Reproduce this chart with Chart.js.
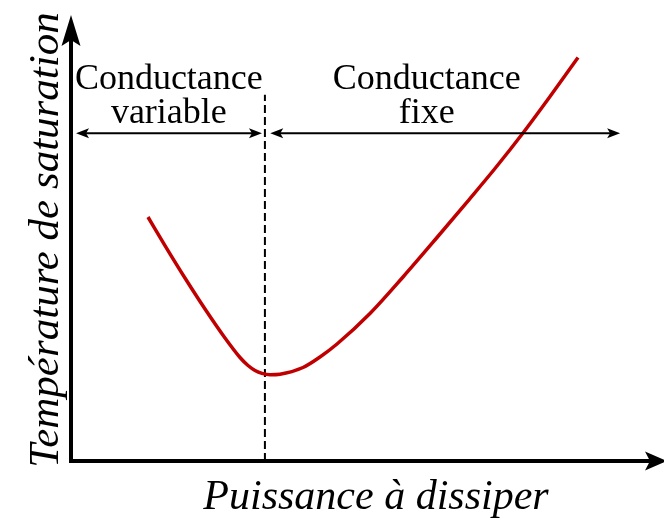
<!DOCTYPE html>
<html>
<head>
<meta charset="utf-8">
<script src="https://cdn.jsdelivr.net/npm/chart.js@4/dist/chart.umd.min.js"></script>
<style>
html,body{margin:0;padding:0;background:#fff;}
canvas{display:block;}
</style>
</head>
<body>
<canvas id="c" width="664" height="518"></canvas>
<script>
// Schematic curve: saturation temperature vs power to dissipate (arbitrary units)
const curveX = [12.98, 15.85, 19.22, 22.60, 25.97, 28.50, 29.85, 31.03, 32.21, 33.56, 35.24, 39.12, 41.99, 44.86, 50.42, 55.99, 61.72, 66.78, 71.50, 76.22, 80.78, 85.50];
const curveY = [54.71, 48.30, 41.03, 34.08, 27.58, 23.21, 21.41, 20.31, 19.64, 19.33, 19.44, 20.96, 23.32, 26.23, 33.07, 41.26, 50.11, 58.07, 65.58, 73.54, 81.73, 90.47];
// Boundary between variable and fixed conductance
const boundaryX = [32.7, 32.7];
const boundaryY = [0, 82.1];
// Region arrows
const arrowY = 73.5;
const leftRegion = [0.85, 32.2];
const rightRegion = [33.6, 92.6];
const regionLabels = [["Conductance", "variable"], ["Conductance", "fixe"]];
const regionLabelX = [16.5, 60.0];
const xTitle = "Puissance à dissiper";
const yTitle = "Température de saturation";

function stealthHead(ctx, tipX, tipY, dirX, dirY, len, half, notch) {
  const px = -dirY, py = dirX;
  const bx = tipX - dirX * len, by = tipY - dirY * len;
  const nx = tipX - dirX * notch, ny = tipY - dirY * notch;
  ctx.beginPath();
  ctx.moveTo(tipX, tipY);
  ctx.lineTo(bx + px * half, by + py * half);
  ctx.lineTo(nx, ny);
  ctx.lineTo(bx - px * half, by - py * half);
  ctx.closePath();
  ctx.fill();
}

const decor = {
  id: 'decor',
  afterDatasetsDraw(chart) {
    const ctx = chart.ctx;
    const xs = chart.scales.x, ys = chart.scales.y;
    const ca = chart.chartArea;
    ctx.save();
    ctx.fillStyle = '#000';
    ctx.strokeStyle = '#000';
    // axes
    ctx.lineWidth = 4;
    ctx.lineCap = 'butt';
    ctx.beginPath();
    ctx.moveTo(ca.left, ca.bottom + 2);
    ctx.lineTo(ca.left, ca.top + 20);
    ctx.moveTo(ca.left - 2, ca.bottom);
    ctx.lineTo(ca.right - 10, ca.bottom);
    ctx.stroke();
    stealthHead(ctx, ca.left, ca.top, 0, -1, 31, 9.5, 25);
    stealthHead(ctx, ca.right + 3, ca.bottom, 1, 0, 22, 9.5, 17);
    // region arrows
    ctx.lineWidth = 2;
    const yA = ys.getPixelForValue(arrowY);
    [leftRegion, rightRegion].forEach(r => {
      const x0 = xs.getPixelForValue(r[0]);
      const x1 = xs.getPixelForValue(r[1]);
      ctx.beginPath();
      ctx.moveTo(x0 + 6, yA);
      ctx.lineTo(x1 - 6, yA);
      ctx.stroke();
      stealthHead(ctx, x0, yA, -1, 0, 13, 5, 10);
      stealthHead(ctx, x1, yA, 1, 0, 13, 5, 10);
    });
    // region labels
    ctx.font = '36px "Liberation Serif", "Times New Roman", serif';
    ctx.textAlign = 'center';
    ctx.textBaseline = 'alphabetic';
    regionLabels.forEach((lines, i) => {
      const cx = xs.getPixelForValue(regionLabelX[i]);
      ctx.fillText(lines[0], cx, 89);
      ctx.fillText(lines[1], cx, 123);
    });
    // axis titles
    ctx.font = 'italic 42px "Liberation Serif", "Times New Roman", serif';
    ctx.fillText(xTitle, 376, 509);
    ctx.font = 'italic 43px "Liberation Serif", "Times New Roman", serif';
    ctx.translate(58, 240);
    ctx.rotate(-Math.PI / 2);
    ctx.fillText(yTitle, 0, 0);
    ctx.restore();
  }
};

new Chart(document.getElementById('c'), {
  type: 'line',
  data: {
    datasets: [
      {
        data: curveX.map((x, i) => ({ x, y: curveY[i] })),
        borderColor: '#c00000',
        borderWidth: 3.5,
        pointRadius: 0,
        cubicInterpolationMode: 'monotone',
        fill: false
      },
      {
        data: boundaryX.map((x, i) => ({ x, y: boundaryY[i] })),
        borderColor: '#000',
        borderWidth: 2,
        borderDash: [8, 4],
        pointRadius: 0,
        fill: false
      }
    ]
  },
  options: {
    responsive: false,
    animation: false,
    layout: { padding: { left: 71, right: 0, top: 15, bottom: 57 } },
    plugins: { legend: { display: false }, tooltip: { enabled: false } },
    scales: {
      x: { type: 'linear', min: 0, max: 100, display: false },
      y: { type: 'linear', min: 0, max: 100, display: false }
    }
  },
  plugins: [decor]
});
</script>
</body>
</html>
